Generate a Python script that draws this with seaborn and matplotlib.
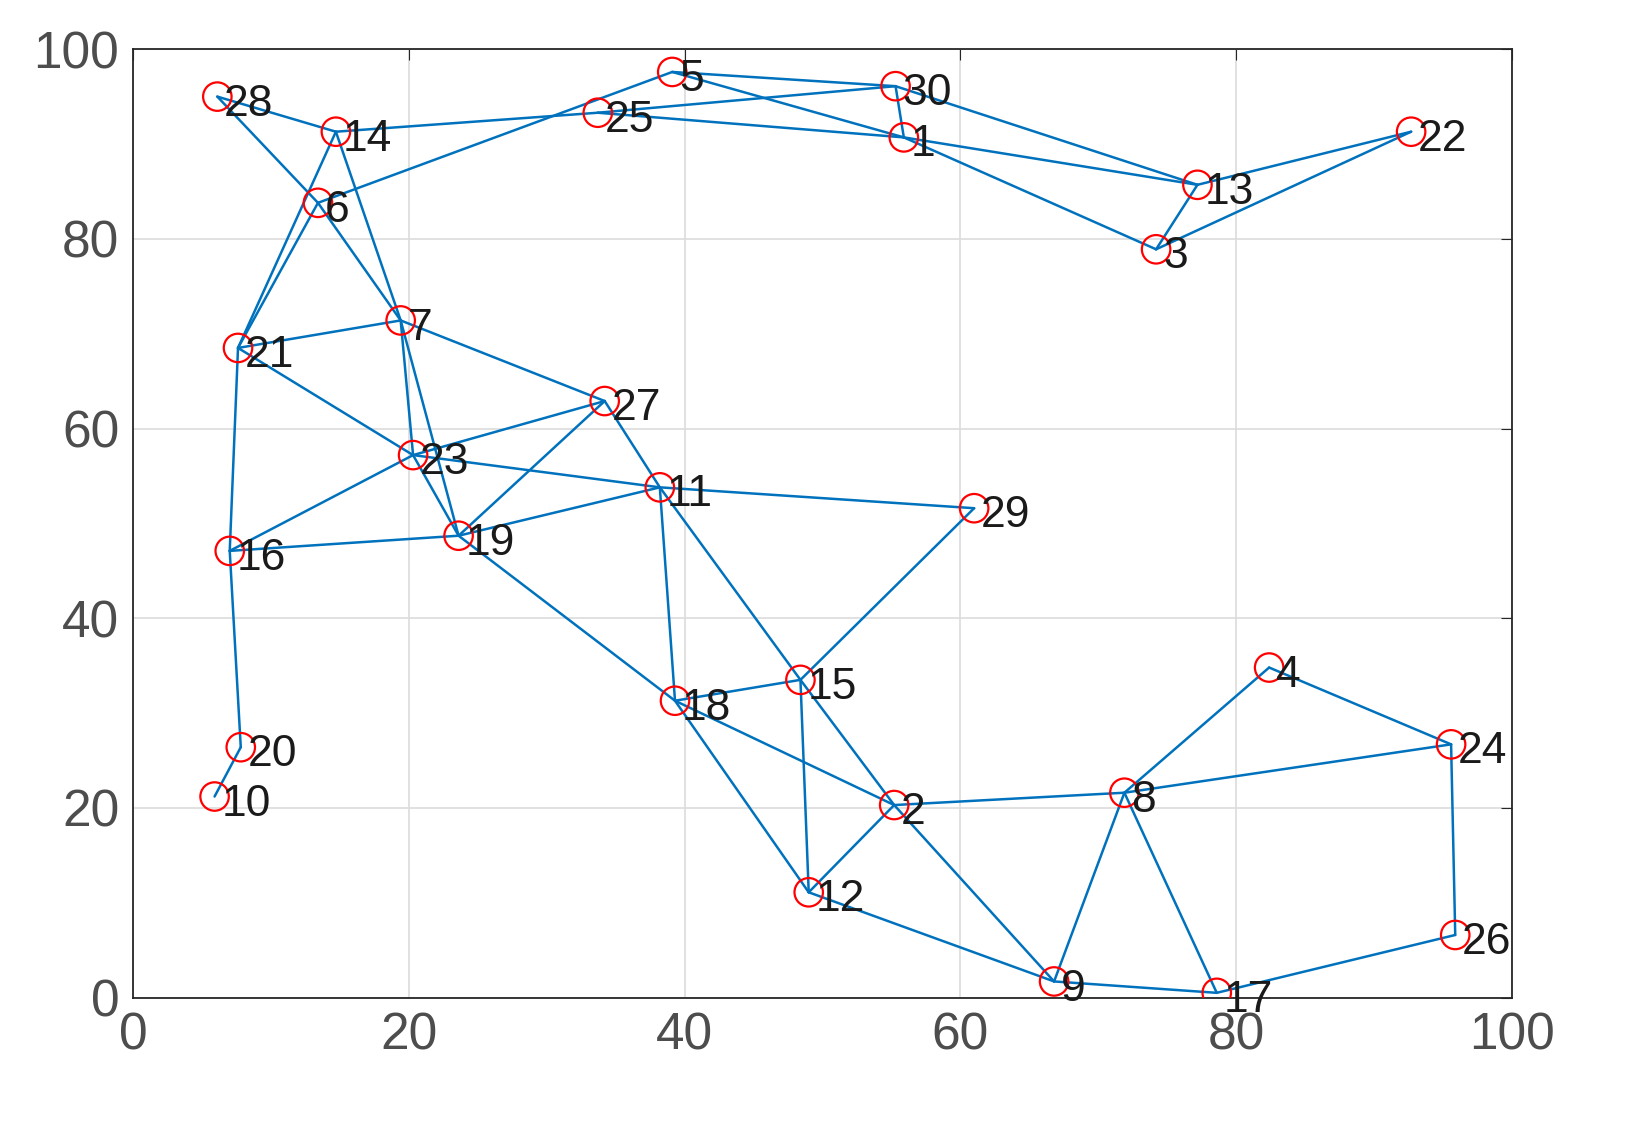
import matplotlib
matplotlib.use("Agg")
import matplotlib.pyplot as plt
import seaborn as sns
import pandas as pd

node_ids = list(range(1, 31))
node_x = [55.9, 55.2, 74.2, 82.4, 39.1, 13.4, 19.4, 71.9, 66.8, 5.9,
          38.2, 49.0, 77.2, 14.7, 48.4, 7.0, 78.6, 39.3, 23.6, 7.8,
          7.6, 92.7, 20.3, 95.6, 33.7, 95.9, 34.2, 6.1, 61.0, 55.3]
node_y = [90.7, 20.3, 78.9, 34.8, 97.6, 83.8, 71.4, 21.6, 1.7, 21.2,
          53.8, 11.1, 85.7, 91.3, 33.5, 47.1, 0.5, 31.3, 48.7, 26.4,
          68.5, 91.3, 57.2, 26.7, 93.3, 6.6, 62.9, 95.0, 51.6, 96.1]
edges = [(28, 14), (28, 6), (6, 7), (14, 25), (14, 21), (14, 7), (6, 21), (6, 5),
         (25, 30), (25, 1), (5, 30), (5, 1), (30, 1), (30, 13), (1, 13), (1, 3),
         (3, 13), (3, 22), (13, 22), (7, 21), (7, 27), (7, 23), (7, 19),
         (21, 23), (21, 16), (16, 23), (16, 19), (16, 20), (20, 10),
         (23, 27), (23, 11), (23, 19), (19, 27), (19, 11), (19, 18), (27, 11),
         (11, 29), (11, 18), (11, 15), (29, 15), (15, 18), (15, 12), (15, 2),
         (18, 2), (18, 12), (12, 9), (12, 2), (2, 9), (2, 8), (8, 9), (8, 17),
         (8, 4), (8, 24), (4, 24), (24, 26), (26, 17), (17, 9)]

df = pd.DataFrame({"id": node_ids, "x": node_x, "y": node_y})

sns.set_style("whitegrid")
plt.rcParams['font.family'] = ['Arial', 'Liberation Sans', 'DejaVu Sans']
fig = plt.figure(figsize=(16.45, 11.44), dpi=100)
ax = fig.add_axes([0.081, 0.128, 0.838, 0.829])

for a, b in edges:
    ax.plot([node_x[a-1], node_x[b-1]], [node_y[a-1], node_y[b-1]],
            color="#0072BD", lw=1.8, zorder=2)
sns.scatterplot(data=df, x="x", y="y", ax=ax, marker="o", s=420,
                facecolor="none", edgecolor="red", linewidth=1.6, zorder=3)
for i, x, y in zip(node_ids, node_x, node_y):
    ax.text(x + 0.5, y - 0.8, str(i), fontsize=32, color="#1a1a1a",
            va="center", ha="left", zorder=4)

ax.set_xlim(0, 100)
ax.set_ylim(0, 100)
ax.set_xticks(range(0, 101, 20))
ax.set_yticks(range(0, 101, 20))
ax.set_xlabel("")
ax.set_ylabel("")
ax.grid(True, color="#dcdcdc", lw=1.2)
for s in ax.spines.values():
    s.set_visible(True)
    s.set_color("#262626")
    s.set_linewidth(1.3)
ax.tick_params(axis="both", labelsize=37, labelcolor="#4d4d4d", direction="in",
               length=8, color="#262626", top=True, right=True, pad=10)
fig.savefig("out.png", dpi=100, facecolor="white")
